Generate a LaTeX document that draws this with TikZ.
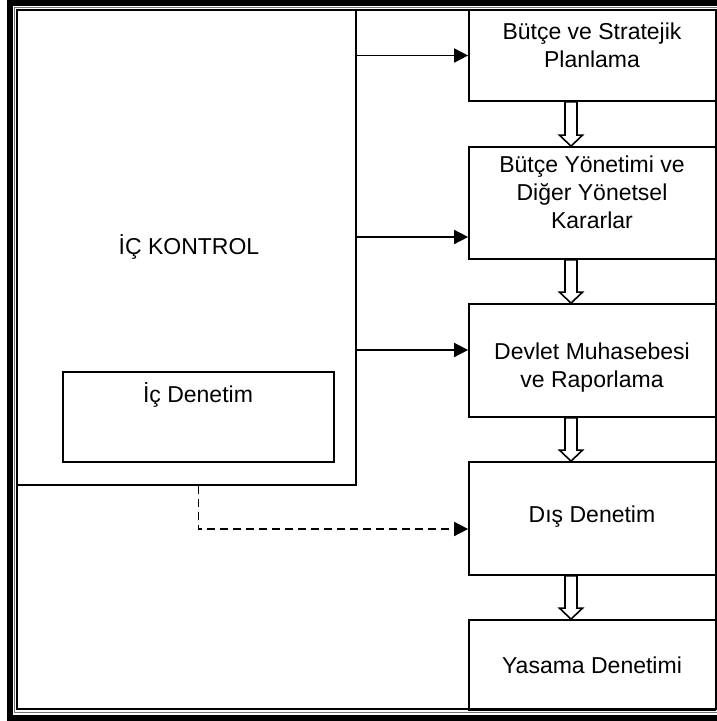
\documentclass[tikz,border=0pt]{standalone}
\usepackage{fontspec}
\setmainfont{Liberation Sans}
\usetikzlibrary{arrows.meta,calc}

% hollow block arrow from the bottom of one box to the top of the next
\newcommand\hollowdown[2]{%
  \path[hollow] let \p1=(#1.south), \p2=(#2.north) in
    ({\x1-21.25pt-6pt},\y1) -- ({\x1-21.25pt-6pt},{\y2+11pt})
    -- ({\x1-21.25pt-11.5pt},{\y2+11pt}) -- ({\x1-21.25pt},\y2)
    -- ({\x1-21.25pt+11.5pt},{\y2+11pt}) -- ({\x1-21.25pt+6pt},{\y2+11pt})
    -- ({\x1-21.25pt+6pt},\y1) -- cycle;}

\begin{document}
\begin{tikzpicture}[x=1pt,y=-1pt,
  boxshape/.style={draw, line width=1.7pt, rectangle, inner sep=0pt},
  lbl/.style={align=center, inner sep=0pt, font=\fontsize{23}{28}\selectfont},
  link/.style={line width=1.6pt, -{Triangle[length=14pt,width=14pt]}},
  dlink/.style={link, dash pattern=on 8pt off 5pt},
  hollow/.style={draw, line width=1.6pt, fill=white, line join=miter}]

\useasboundingbox (0,0) rectangle (717,721);
\clip (0,0) rectangle (717,721);

% left block
\node[boxshape, minimum width=339pt, minimum height=475pt] (b0) at (186.5,247.5) {};
\node[boxshape, minimum width=271pt, minimum height=90pt] (den) at (198.5,417) {};
\node[lbl] (t0) at (189,247) {İÇ KONTROL};
\node[lbl] (td) at (198,395) {İç Denetim};

% right column
\node[boxshape, minimum width=246.5pt, minimum height=91pt]  (b1) at (592.25,55.5) {};
\node[boxshape, minimum width=246.5pt, minimum height=112pt] (b2) at (592.25,203) {};
\node[boxshape, minimum width=246.5pt, minimum height=113pt] (b3) at (592.25,360.5) {};
\node[boxshape, minimum width=246.5pt, minimum height=113pt] (b4) at (592.25,518.5) {};
\node[boxshape, minimum width=246.5pt, minimum height=90pt]  (b5) at (592.25,665) {};

\node[lbl] (t1) at (592,45)  {Bütçe ve Stratejik\\Planlama};
\node[lbl] (t2) at (592,192) {Bütçe Yönetimi ve\\Diğer Yönetsel\\Kararlar};
\node[lbl] (t3) at (592,368) {Devlet Muhasebesi\\ve Raporlama};
\node[lbl] (t4) at (592,517) {Dış Denetim};
\node[lbl] (t5) at (592,665) {Yasama Denetimi};

% connectors
\draw[link] (b0.east |- b1.west) -- (b1.west);
\draw[link] (b0.east |- 0,237) -- (b2.west |- 0,237);
\draw[link] (b0.east |- 0,350) -- (b3.west |- 0,350);
\draw[dlink] (b0.south -| den.south) |- (b4.west |- 0,529);

\hollowdown{b1}{b2}
\hollowdown{b2}{b3}
\hollowdown{b3}{b4}
\hollowdown{b4}{b5}

% page frame
\draw[line width=6pt] (10,3) rectangle (724,718);
\draw[line width=1pt, black!55] (14.5,7.5) rectangle (719.5,712.5);
\draw[line width=2pt] (17,10) rectangle (715.5,709);
\end{tikzpicture}
\end{document}
